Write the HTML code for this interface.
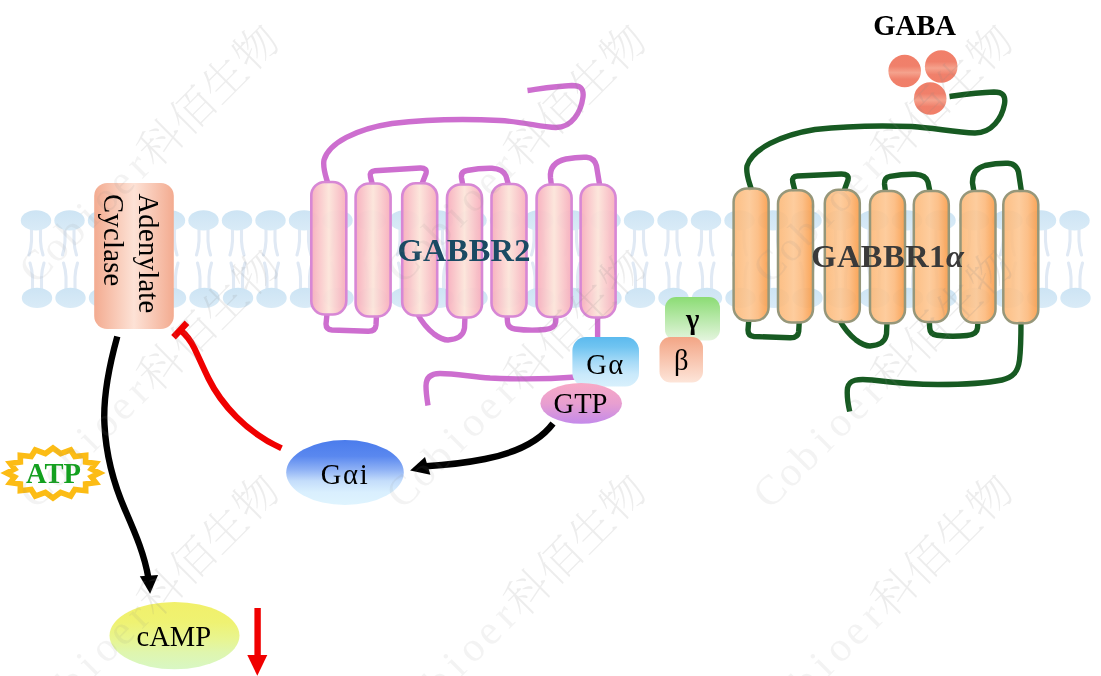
<!DOCTYPE html>
<html lang="en"><head><meta charset="utf-8"><title>GABA-B receptor signalling</title>
<style>
html,body{margin:0;padding:0;background:#fff;}
body{width:1101px;height:676px;overflow:hidden;}
svg{display:block;will-change:transform;}
text{font-family:"Liberation Serif","Noto Serif CJK SC",serif;}
.wm{font-family:"Liberation Serif","Noto Serif CJK SC",serif;font-weight:200;fill:#888;font-size:44px;}
</style></head><body>
<svg width="1101" height="676" viewBox="0 0 1101 676">
<defs>
<linearGradient id="gLip" x1="0" y1="0" x2="0" y2="1"><stop offset="0" stop-color="#cde4f4"/><stop offset="1" stop-color="#d9ebf7"/></linearGradient>
<linearGradient id="gAC" x1="0" y1="0" x2="1" y2="0"><stop offset="0" stop-color="#f3ab90"/><stop offset=".5" stop-color="#fde2d6"/><stop offset="1" stop-color="#f3ab90"/></linearGradient>
<linearGradient id="gPink" x1="0" y1="0" x2="1" y2="0"><stop offset="0" stop-color="#f7adbc"/><stop offset=".5" stop-color="#fce5da"/><stop offset="1" stop-color="#f7adbc"/></linearGradient>
<linearGradient id="gOr" x1="0" y1="0" x2="1" y2="0"><stop offset="0" stop-color="#fcb877"/><stop offset=".45" stop-color="#fdc793"/><stop offset=".7" stop-color="#fcb97c"/><stop offset="1" stop-color="#f99a45"/></linearGradient>
<linearGradient id="gGa" x1="0" y1="0" x2="0" y2="1"><stop offset="0" stop-color="#5cbaee"/><stop offset=".2" stop-color="#70c4f1"/><stop offset=".5" stop-color="#a6daf7"/><stop offset=".75" stop-color="#c9e9fb"/><stop offset="1" stop-color="#d8f0fc"/></linearGradient>
<linearGradient id="gGTP" x1="0" y1="0" x2="0" y2="1"><stop offset="0" stop-color="#f8a9c6"/><stop offset=".5" stop-color="#e89fd0"/><stop offset="1" stop-color="#c48aea"/></linearGradient>
<linearGradient id="gGam" x1="0" y1="0" x2="0" y2="1"><stop offset="0" stop-color="#8bdc74"/><stop offset="1" stop-color="#e4f5de"/></linearGradient>
<linearGradient id="gBet" x1="0" y1="0" x2="0" y2="1"><stop offset="0" stop-color="#f3a585"/><stop offset="1" stop-color="#fde5d9"/></linearGradient>
<linearGradient id="gGai" x1="0" y1="0" x2="0" y2="1"><stop offset="0" stop-color="#4b7cec"/><stop offset=".25" stop-color="#5a88ef"/><stop offset=".45" stop-color="#8db0f5"/><stop offset=".63" stop-color="#c4ddfb"/><stop offset=".8" stop-color="#d9effe"/><stop offset="1" stop-color="#dff4fe"/></linearGradient>
<linearGradient id="gCamp" x1="0" y1="0" x2="0" y2="1"><stop offset="0" stop-color="#f1f06a"/><stop offset=".3" stop-color="#eff272"/><stop offset=".55" stop-color="#e8f590"/><stop offset=".75" stop-color="#dff6ae"/><stop offset="1" stop-color="#d8f7c4"/></linearGradient>
<linearGradient id="gBall" x1="0" y1="0" x2="0" y2="1"><stop offset="0" stop-color="#f17f69"/><stop offset=".35" stop-color="#f0806b"/><stop offset=".55" stop-color="#f5a28d"/><stop offset=".75" stop-color="#f0806b"/><stop offset="1" stop-color="#f17f69"/></linearGradient>
</defs>
<rect width="1101" height="676" fill="#fff"/>

<g id="membrane">
<path d="M31.5 229 V241 Q31.2 248 29.0 255 M40.5 229 V241 Q40.8 248 43.0 255" stroke="#e0e9f4" stroke-width="3.1" fill="none" stroke-linecap="round"/>
<ellipse cx="36.0" cy="220.4" rx="15.2" ry="10.1" fill="url(#gLip)"/>
<path d="M32.5 290 V277 Q32.2 270 30.0 263 M41.5 290 V277 Q41.8 270 44.0 263" stroke="#e0e9f4" stroke-width="3.1" fill="none" stroke-linecap="round"/>
<ellipse cx="37.0" cy="297.9" rx="15.2" ry="10.1" fill="url(#gLip)"/>
<path d="M65.0 229 V241 Q64.7 248 62.5 255 M74.0 229 V241 Q74.3 248 76.5 255" stroke="#e0e9f4" stroke-width="3.1" fill="none" stroke-linecap="round"/>
<ellipse cx="69.5" cy="220.4" rx="15.2" ry="10.1" fill="url(#gLip)"/>
<path d="M66.0 290 V277 Q65.7 270 63.5 263 M75.0 290 V277 Q75.3 270 77.5 263" stroke="#e0e9f4" stroke-width="3.1" fill="none" stroke-linecap="round"/>
<ellipse cx="70.5" cy="297.9" rx="15.2" ry="10.1" fill="url(#gLip)"/>
<path d="M98.5 229 V241 Q98.2 248 96.0 255 M107.5 229 V241 Q107.8 248 110.0 255" stroke="#e0e9f4" stroke-width="3.1" fill="none" stroke-linecap="round"/>
<ellipse cx="103.0" cy="220.4" rx="15.2" ry="10.1" fill="url(#gLip)"/>
<path d="M99.5 290 V277 Q99.2 270 97.0 263 M108.5 290 V277 Q108.8 270 111.0 263" stroke="#e0e9f4" stroke-width="3.1" fill="none" stroke-linecap="round"/>
<ellipse cx="104.0" cy="297.9" rx="15.2" ry="10.1" fill="url(#gLip)"/>
<path d="M132.0 229 V241 Q131.7 248 129.5 255 M141.0 229 V241 Q141.3 248 143.5 255" stroke="#e0e9f4" stroke-width="3.1" fill="none" stroke-linecap="round"/>
<ellipse cx="136.5" cy="220.4" rx="15.2" ry="10.1" fill="url(#gLip)"/>
<path d="M133.0 290 V277 Q132.7 270 130.5 263 M142.0 290 V277 Q142.3 270 144.5 263" stroke="#e0e9f4" stroke-width="3.1" fill="none" stroke-linecap="round"/>
<ellipse cx="137.5" cy="297.9" rx="15.2" ry="10.1" fill="url(#gLip)"/>
<path d="M165.5 229 V241 Q165.2 248 163.0 255 M174.5 229 V241 Q174.8 248 177.0 255" stroke="#e0e9f4" stroke-width="3.1" fill="none" stroke-linecap="round"/>
<ellipse cx="170.0" cy="220.4" rx="15.2" ry="10.1" fill="url(#gLip)"/>
<path d="M166.5 290 V277 Q166.2 270 164.0 263 M175.5 290 V277 Q175.8 270 178.0 263" stroke="#e0e9f4" stroke-width="3.1" fill="none" stroke-linecap="round"/>
<ellipse cx="171.0" cy="297.9" rx="15.2" ry="10.1" fill="url(#gLip)"/>
<path d="M199.0 229 V241 Q198.7 248 196.5 255 M208.0 229 V241 Q208.3 248 210.5 255" stroke="#e0e9f4" stroke-width="3.1" fill="none" stroke-linecap="round"/>
<ellipse cx="203.5" cy="220.4" rx="15.2" ry="10.1" fill="url(#gLip)"/>
<path d="M200.0 290 V277 Q199.7 270 197.5 263 M209.0 290 V277 Q209.3 270 211.5 263" stroke="#e0e9f4" stroke-width="3.1" fill="none" stroke-linecap="round"/>
<ellipse cx="204.5" cy="297.9" rx="15.2" ry="10.1" fill="url(#gLip)"/>
<path d="M232.5 229 V241 Q232.2 248 230.0 255 M241.5 229 V241 Q241.8 248 244.0 255" stroke="#e0e9f4" stroke-width="3.1" fill="none" stroke-linecap="round"/>
<ellipse cx="237.0" cy="220.4" rx="15.2" ry="10.1" fill="url(#gLip)"/>
<path d="M233.5 290 V277 Q233.2 270 231.0 263 M242.5 290 V277 Q242.8 270 245.0 263" stroke="#e0e9f4" stroke-width="3.1" fill="none" stroke-linecap="round"/>
<ellipse cx="238.0" cy="297.9" rx="15.2" ry="10.1" fill="url(#gLip)"/>
<path d="M266.0 229 V241 Q265.7 248 263.5 255 M275.0 229 V241 Q275.3 248 277.5 255" stroke="#e0e9f4" stroke-width="3.1" fill="none" stroke-linecap="round"/>
<ellipse cx="270.5" cy="220.4" rx="15.2" ry="10.1" fill="url(#gLip)"/>
<path d="M267.0 290 V277 Q266.7 270 264.5 263 M276.0 290 V277 Q276.3 270 278.5 263" stroke="#e0e9f4" stroke-width="3.1" fill="none" stroke-linecap="round"/>
<ellipse cx="271.5" cy="297.9" rx="15.2" ry="10.1" fill="url(#gLip)"/>
<path d="M299.5 229 V241 Q299.2 248 297.0 255 M308.5 229 V241 Q308.8 248 311.0 255" stroke="#e0e9f4" stroke-width="3.1" fill="none" stroke-linecap="round"/>
<ellipse cx="304.0" cy="220.4" rx="15.2" ry="10.1" fill="url(#gLip)"/>
<path d="M300.5 290 V277 Q300.2 270 298.0 263 M309.5 290 V277 Q309.8 270 312.0 263" stroke="#e0e9f4" stroke-width="3.1" fill="none" stroke-linecap="round"/>
<ellipse cx="305.0" cy="297.9" rx="15.2" ry="10.1" fill="url(#gLip)"/>
<path d="M333.0 229 V241 Q332.7 248 330.5 255 M342.0 229 V241 Q342.3 248 344.5 255" stroke="#e0e9f4" stroke-width="3.1" fill="none" stroke-linecap="round"/>
<ellipse cx="337.5" cy="220.4" rx="15.2" ry="10.1" fill="url(#gLip)"/>
<path d="M334.0 290 V277 Q333.7 270 331.5 263 M343.0 290 V277 Q343.3 270 345.5 263" stroke="#e0e9f4" stroke-width="3.1" fill="none" stroke-linecap="round"/>
<ellipse cx="338.5" cy="297.9" rx="15.2" ry="10.1" fill="url(#gLip)"/>
<path d="M366.5 229 V241 Q366.2 248 364.0 255 M375.5 229 V241 Q375.8 248 378.0 255" stroke="#e0e9f4" stroke-width="3.1" fill="none" stroke-linecap="round"/>
<ellipse cx="371.0" cy="220.4" rx="15.2" ry="10.1" fill="url(#gLip)"/>
<path d="M367.5 290 V277 Q367.2 270 365.0 263 M376.5 290 V277 Q376.8 270 379.0 263" stroke="#e0e9f4" stroke-width="3.1" fill="none" stroke-linecap="round"/>
<ellipse cx="372.0" cy="297.9" rx="15.2" ry="10.1" fill="url(#gLip)"/>
<path d="M400.0 229 V241 Q399.7 248 397.5 255 M409.0 229 V241 Q409.3 248 411.5 255" stroke="#e0e9f4" stroke-width="3.1" fill="none" stroke-linecap="round"/>
<ellipse cx="404.5" cy="220.4" rx="15.2" ry="10.1" fill="url(#gLip)"/>
<path d="M401.0 290 V277 Q400.7 270 398.5 263 M410.0 290 V277 Q410.3 270 412.5 263" stroke="#e0e9f4" stroke-width="3.1" fill="none" stroke-linecap="round"/>
<ellipse cx="405.5" cy="297.9" rx="15.2" ry="10.1" fill="url(#gLip)"/>
<path d="M433.5 229 V241 Q433.2 248 431.0 255 M442.5 229 V241 Q442.8 248 445.0 255" stroke="#e0e9f4" stroke-width="3.1" fill="none" stroke-linecap="round"/>
<ellipse cx="438.0" cy="220.4" rx="15.2" ry="10.1" fill="url(#gLip)"/>
<path d="M434.5 290 V277 Q434.2 270 432.0 263 M443.5 290 V277 Q443.8 270 446.0 263" stroke="#e0e9f4" stroke-width="3.1" fill="none" stroke-linecap="round"/>
<ellipse cx="439.0" cy="297.9" rx="15.2" ry="10.1" fill="url(#gLip)"/>
<path d="M467.0 229 V241 Q466.7 248 464.5 255 M476.0 229 V241 Q476.3 248 478.5 255" stroke="#e0e9f4" stroke-width="3.1" fill="none" stroke-linecap="round"/>
<ellipse cx="471.5" cy="220.4" rx="15.2" ry="10.1" fill="url(#gLip)"/>
<path d="M468.0 290 V277 Q467.7 270 465.5 263 M477.0 290 V277 Q477.3 270 479.5 263" stroke="#e0e9f4" stroke-width="3.1" fill="none" stroke-linecap="round"/>
<ellipse cx="472.5" cy="297.9" rx="15.2" ry="10.1" fill="url(#gLip)"/>
<path d="M500.5 229 V241 Q500.2 248 498.0 255 M509.5 229 V241 Q509.8 248 512.0 255" stroke="#e0e9f4" stroke-width="3.1" fill="none" stroke-linecap="round"/>
<ellipse cx="505.0" cy="220.4" rx="15.2" ry="10.1" fill="url(#gLip)"/>
<path d="M501.5 290 V277 Q501.2 270 499.0 263 M510.5 290 V277 Q510.8 270 513.0 263" stroke="#e0e9f4" stroke-width="3.1" fill="none" stroke-linecap="round"/>
<ellipse cx="506.0" cy="297.9" rx="15.2" ry="10.1" fill="url(#gLip)"/>
<path d="M534.0 229 V241 Q533.7 248 531.5 255 M543.0 229 V241 Q543.3 248 545.5 255" stroke="#e0e9f4" stroke-width="3.1" fill="none" stroke-linecap="round"/>
<ellipse cx="538.5" cy="220.4" rx="15.2" ry="10.1" fill="url(#gLip)"/>
<path d="M535.0 290 V277 Q534.7 270 532.5 263 M544.0 290 V277 Q544.3 270 546.5 263" stroke="#e0e9f4" stroke-width="3.1" fill="none" stroke-linecap="round"/>
<ellipse cx="539.5" cy="297.9" rx="15.2" ry="10.1" fill="url(#gLip)"/>
<path d="M567.5 229 V241 Q567.2 248 565.0 255 M576.5 229 V241 Q576.8 248 579.0 255" stroke="#e0e9f4" stroke-width="3.1" fill="none" stroke-linecap="round"/>
<ellipse cx="572.0" cy="220.4" rx="15.2" ry="10.1" fill="url(#gLip)"/>
<path d="M568.5 290 V277 Q568.2 270 566.0 263 M577.5 290 V277 Q577.8 270 580.0 263" stroke="#e0e9f4" stroke-width="3.1" fill="none" stroke-linecap="round"/>
<ellipse cx="573.0" cy="297.9" rx="15.2" ry="10.1" fill="url(#gLip)"/>
<path d="M601.0 229 V241 Q600.7 248 598.5 255 M610.0 229 V241 Q610.3 248 612.5 255" stroke="#e0e9f4" stroke-width="3.1" fill="none" stroke-linecap="round"/>
<ellipse cx="605.5" cy="220.4" rx="15.2" ry="10.1" fill="url(#gLip)"/>
<path d="M602.0 290 V277 Q601.7 270 599.5 263 M611.0 290 V277 Q611.3 270 613.5 263" stroke="#e0e9f4" stroke-width="3.1" fill="none" stroke-linecap="round"/>
<ellipse cx="606.5" cy="297.9" rx="15.2" ry="10.1" fill="url(#gLip)"/>
<path d="M634.5 229 V241 Q634.2 248 632.0 255 M643.5 229 V241 Q643.8 248 646.0 255" stroke="#e0e9f4" stroke-width="3.1" fill="none" stroke-linecap="round"/>
<ellipse cx="639.0" cy="220.4" rx="15.2" ry="10.1" fill="url(#gLip)"/>
<path d="M635.5 290 V277 Q635.2 270 633.0 263 M644.5 290 V277 Q644.8 270 647.0 263" stroke="#e0e9f4" stroke-width="3.1" fill="none" stroke-linecap="round"/>
<ellipse cx="640.0" cy="297.9" rx="15.2" ry="10.1" fill="url(#gLip)"/>
<path d="M668.0 229 V241 Q667.7 248 665.5 255 M677.0 229 V241 Q677.3 248 679.5 255" stroke="#e0e9f4" stroke-width="3.1" fill="none" stroke-linecap="round"/>
<ellipse cx="672.5" cy="220.4" rx="15.2" ry="10.1" fill="url(#gLip)"/>
<path d="M669.0 290 V277 Q668.7 270 666.5 263 M678.0 290 V277 Q678.3 270 680.5 263" stroke="#e0e9f4" stroke-width="3.1" fill="none" stroke-linecap="round"/>
<ellipse cx="673.5" cy="297.9" rx="15.2" ry="10.1" fill="url(#gLip)"/>
<path d="M701.5 229 V241 Q701.2 248 699.0 255 M710.5 229 V241 Q710.8 248 713.0 255" stroke="#e0e9f4" stroke-width="3.1" fill="none" stroke-linecap="round"/>
<ellipse cx="706.0" cy="220.4" rx="15.2" ry="10.1" fill="url(#gLip)"/>
<path d="M702.5 290 V277 Q702.2 270 700.0 263 M711.5 290 V277 Q711.8 270 714.0 263" stroke="#e0e9f4" stroke-width="3.1" fill="none" stroke-linecap="round"/>
<ellipse cx="707.0" cy="297.9" rx="15.2" ry="10.1" fill="url(#gLip)"/>
<path d="M735.0 229 V241 Q734.7 248 732.5 255 M744.0 229 V241 Q744.3 248 746.5 255" stroke="#e0e9f4" stroke-width="3.1" fill="none" stroke-linecap="round"/>
<ellipse cx="739.5" cy="220.4" rx="15.2" ry="10.1" fill="url(#gLip)"/>
<path d="M736.0 290 V277 Q735.7 270 733.5 263 M745.0 290 V277 Q745.3 270 747.5 263" stroke="#e0e9f4" stroke-width="3.1" fill="none" stroke-linecap="round"/>
<ellipse cx="740.5" cy="297.9" rx="15.2" ry="10.1" fill="url(#gLip)"/>
<path d="M768.5 229 V241 Q768.2 248 766.0 255 M777.5 229 V241 Q777.8 248 780.0 255" stroke="#e0e9f4" stroke-width="3.1" fill="none" stroke-linecap="round"/>
<ellipse cx="773.0" cy="220.4" rx="15.2" ry="10.1" fill="url(#gLip)"/>
<path d="M769.5 290 V277 Q769.2 270 767.0 263 M778.5 290 V277 Q778.8 270 781.0 263" stroke="#e0e9f4" stroke-width="3.1" fill="none" stroke-linecap="round"/>
<ellipse cx="774.0" cy="297.9" rx="15.2" ry="10.1" fill="url(#gLip)"/>
<path d="M802.0 229 V241 Q801.7 248 799.5 255 M811.0 229 V241 Q811.3 248 813.5 255" stroke="#e0e9f4" stroke-width="3.1" fill="none" stroke-linecap="round"/>
<ellipse cx="806.5" cy="220.4" rx="15.2" ry="10.1" fill="url(#gLip)"/>
<path d="M803.0 290 V277 Q802.7 270 800.5 263 M812.0 290 V277 Q812.3 270 814.5 263" stroke="#e0e9f4" stroke-width="3.1" fill="none" stroke-linecap="round"/>
<ellipse cx="807.5" cy="297.9" rx="15.2" ry="10.1" fill="url(#gLip)"/>
<path d="M835.5 229 V241 Q835.2 248 833.0 255 M844.5 229 V241 Q844.8 248 847.0 255" stroke="#e0e9f4" stroke-width="3.1" fill="none" stroke-linecap="round"/>
<ellipse cx="840.0" cy="220.4" rx="15.2" ry="10.1" fill="url(#gLip)"/>
<path d="M836.5 290 V277 Q836.2 270 834.0 263 M845.5 290 V277 Q845.8 270 848.0 263" stroke="#e0e9f4" stroke-width="3.1" fill="none" stroke-linecap="round"/>
<ellipse cx="841.0" cy="297.9" rx="15.2" ry="10.1" fill="url(#gLip)"/>
<path d="M869.0 229 V241 Q868.7 248 866.5 255 M878.0 229 V241 Q878.3 248 880.5 255" stroke="#e0e9f4" stroke-width="3.1" fill="none" stroke-linecap="round"/>
<ellipse cx="873.5" cy="220.4" rx="15.2" ry="10.1" fill="url(#gLip)"/>
<path d="M870.0 290 V277 Q869.7 270 867.5 263 M879.0 290 V277 Q879.3 270 881.5 263" stroke="#e0e9f4" stroke-width="3.1" fill="none" stroke-linecap="round"/>
<ellipse cx="874.5" cy="297.9" rx="15.2" ry="10.1" fill="url(#gLip)"/>
<path d="M902.5 229 V241 Q902.2 248 900.0 255 M911.5 229 V241 Q911.8 248 914.0 255" stroke="#e0e9f4" stroke-width="3.1" fill="none" stroke-linecap="round"/>
<ellipse cx="907.0" cy="220.4" rx="15.2" ry="10.1" fill="url(#gLip)"/>
<path d="M903.5 290 V277 Q903.2 270 901.0 263 M912.5 290 V277 Q912.8 270 915.0 263" stroke="#e0e9f4" stroke-width="3.1" fill="none" stroke-linecap="round"/>
<ellipse cx="908.0" cy="297.9" rx="15.2" ry="10.1" fill="url(#gLip)"/>
<path d="M936.0 229 V241 Q935.7 248 933.5 255 M945.0 229 V241 Q945.3 248 947.5 255" stroke="#e0e9f4" stroke-width="3.1" fill="none" stroke-linecap="round"/>
<ellipse cx="940.5" cy="220.4" rx="15.2" ry="10.1" fill="url(#gLip)"/>
<path d="M937.0 290 V277 Q936.7 270 934.5 263 M946.0 290 V277 Q946.3 270 948.5 263" stroke="#e0e9f4" stroke-width="3.1" fill="none" stroke-linecap="round"/>
<ellipse cx="941.5" cy="297.9" rx="15.2" ry="10.1" fill="url(#gLip)"/>
<path d="M969.5 229 V241 Q969.2 248 967.0 255 M978.5 229 V241 Q978.8 248 981.0 255" stroke="#e0e9f4" stroke-width="3.1" fill="none" stroke-linecap="round"/>
<ellipse cx="974.0" cy="220.4" rx="15.2" ry="10.1" fill="url(#gLip)"/>
<path d="M970.5 290 V277 Q970.2 270 968.0 263 M979.5 290 V277 Q979.8 270 982.0 263" stroke="#e0e9f4" stroke-width="3.1" fill="none" stroke-linecap="round"/>
<ellipse cx="975.0" cy="297.9" rx="15.2" ry="10.1" fill="url(#gLip)"/>
<path d="M1003.0 229 V241 Q1002.7 248 1000.5 255 M1012.0 229 V241 Q1012.3 248 1014.5 255" stroke="#e0e9f4" stroke-width="3.1" fill="none" stroke-linecap="round"/>
<ellipse cx="1007.5" cy="220.4" rx="15.2" ry="10.1" fill="url(#gLip)"/>
<path d="M1004.0 290 V277 Q1003.7 270 1001.5 263 M1013.0 290 V277 Q1013.3 270 1015.5 263" stroke="#e0e9f4" stroke-width="3.1" fill="none" stroke-linecap="round"/>
<ellipse cx="1008.5" cy="297.9" rx="15.2" ry="10.1" fill="url(#gLip)"/>
<path d="M1036.5 229 V241 Q1036.2 248 1034.0 255 M1045.5 229 V241 Q1045.8 248 1048.0 255" stroke="#e0e9f4" stroke-width="3.1" fill="none" stroke-linecap="round"/>
<ellipse cx="1041.0" cy="220.4" rx="15.2" ry="10.1" fill="url(#gLip)"/>
<path d="M1037.5 290 V277 Q1037.2 270 1035.0 263 M1046.5 290 V277 Q1046.8 270 1049.0 263" stroke="#e0e9f4" stroke-width="3.1" fill="none" stroke-linecap="round"/>
<ellipse cx="1042.0" cy="297.9" rx="15.2" ry="10.1" fill="url(#gLip)"/>
<path d="M1070.0 229 V241 Q1069.7 248 1067.5 255 M1079.0 229 V241 Q1079.3 248 1081.5 255" stroke="#e0e9f4" stroke-width="3.1" fill="none" stroke-linecap="round"/>
<ellipse cx="1074.5" cy="220.4" rx="15.2" ry="10.1" fill="url(#gLip)"/>
<path d="M1071.0 290 V277 Q1070.7 270 1068.5 263 M1080.0 290 V277 Q1080.3 270 1082.5 263" stroke="#e0e9f4" stroke-width="3.1" fill="none" stroke-linecap="round"/>
<ellipse cx="1075.5" cy="297.9" rx="15.2" ry="10.1" fill="url(#gLip)"/>
</g>
<g id="adenylate-cyclase">
<rect x="94.2" y="183" width="79.6" height="146" rx="13" ry="13" fill="url(#gAC)"/>
<text transform="translate(139.2 193.4) rotate(90)" font-size="28.6" letter-spacing=".3" fill="#000">Adenylate</text>
<text transform="translate(104.4 194) rotate(90)" font-size="28.6" letter-spacing=".3" fill="#000">Cyclase</text>
</g>
<g id="gabbr2"><g fill="none" stroke="#cd6ecf" stroke-width="5.4" stroke-linecap="butt" stroke-linejoin="round">
<path d="M328 184 C325.5 175 322.5 168 324 160 C329 143 356 129 392 123.5 C430 119 470 119 500 120.5 C525 122 540 127 556 127.5 C572 127.5 581 112 583 97 C584 88 580 85.5 572 85.5 C557 86 542 88.5 527.5 90.5"/>
<path d="M372.5 185 L370.5 177 Q369 171.3 375 170.8 L420 168 Q427.5 167.6 426 173.5 L421.5 185"/>
<path d="M463 186 L461.5 178 Q460.5 171.5 467 170.5 Q480 168 492 168.3 Q503 169 506 176 L508.5 185"/>
<path d="M551.5 186 L550.5 178 C549.5 168 555 161.5 566 159 Q577 157 586.5 157.3 Q594.5 158 596.5 166 L599.8 186"/>
<path d="M327 314 L326 324 Q326 329.5 332 330 L368 331.3 Q375.5 331.5 376 325 L376.5 315"/>
<path d="M417.5 314 Q424 326 434 334 Q442 340 448 340 Q463 339 464.5 328 L465 316"/>
<path d="M507 315 L507.5 322 Q508 328 515 329 Q530 331 545 329.5 Q555 328.5 555.7 322 L556 315"/>
<path d="M597.6 315 V340"/>
<path d="M576 377 C550 379 520 379.5 490 378 C470 376.5 455 373.5 440 373.5 C430 373.5 426 378 426 386 C426 393 427 399 428 405.5"/>
</g>
<rect x="311.3" y="182.0" width="35" height="132.5" rx="13.5" ry="13.5" fill="url(#gPink)" fill-opacity=".95" stroke="#d787d5" stroke-width="2.6"/>
<rect x="355.6" y="183.5" width="35" height="133.0" rx="13.5" ry="13.5" fill="url(#gPink)" fill-opacity=".95" stroke="#d787d5" stroke-width="2.6"/>
<rect x="402.2" y="183.3" width="35" height="132.2" rx="13.5" ry="13.5" fill="url(#gPink)" fill-opacity=".95" stroke="#d787d5" stroke-width="2.6"/>
<rect x="447.0" y="184.5" width="35" height="133.0" rx="13.5" ry="13.5" fill="url(#gPink)" fill-opacity=".95" stroke="#d787d5" stroke-width="2.6"/>
<rect x="491.5" y="184.0" width="35" height="132.5" rx="13.5" ry="13.5" fill="url(#gPink)" fill-opacity=".95" stroke="#d787d5" stroke-width="2.6"/>
<rect x="536.6" y="184.5" width="35" height="132.5" rx="13.5" ry="13.5" fill="url(#gPink)" fill-opacity=".95" stroke="#d787d5" stroke-width="2.6"/>
<rect x="580.6" y="184.5" width="35" height="133.0" rx="13.5" ry="13.5" fill="url(#gPink)" fill-opacity=".95" stroke="#d787d5" stroke-width="2.6"/>
<text x="397.4" y="260.5" font-size="32.4" letter-spacing=".35" font-weight="bold" fill="#1a4a63">GABBR2</text>
</g>
<g id="gabbr1a"><g fill="none" stroke="#175a22" stroke-width="5.4" stroke-linecap="butt" stroke-linejoin="round">
<path d="M751.5 190 C749 181 745.5 174 747 166 C752 149 781 135 815 129.5 C850 125.5 885 125.5 912 126.5 C935 128 955 132.5 975 133 C992 133 1002 118 1004.5 104 C1006 95 1002 92 994 92 C978 92.5 964 94.5 949.5 96.5"/>
<path d="M795 191 L792.7 182 Q791.5 176.5 797.5 176 L841 174 Q849.5 173.8 848 180 L844 191"/>
<path d="M885.5 192 L884.5 184 Q884 177.5 890 176.3 Q903 174 915 174.3 Q926 175 928 182 L930 192"/>
<path d="M974 192 L972.5 183 Q972 169 985 165.5 Q997 163 1008 163.3 Q1016.5 164 1018.5 172 L1021.5 192"/>
<path d="M748.8 320 L748 330 Q748 336 754 336.5 L790 337.8 Q798 338 798.7 331.5 L799.3 321"/>
<path d="M839.5 320 Q846 332 856 340 Q864 346 870 346 Q885 345 886.5 334 L887 322"/>
<path d="M929.3 321 L929.7 328 Q930 334.5 937 335.3 Q952 337 967 335.5 Q977 334.5 977.5 328 L978 321"/>
<path d="M1021 321 C1021 335 1021 348 1019.5 360 C1018 372 1013 377.5 1002 380 C985 383.5 960 384.5 938 384.5 C915 384.5 893 382.5 872 380 C858 378.5 849 379.5 847.5 388 C846.5 396 848 404 849.7 411.5"/>
</g>
<rect x="733.6" y="188.5" width="35" height="132.3" rx="13.5" ry="13.5" fill="url(#gOr)" fill-opacity=".9" stroke="#96977a" stroke-width="2.5"/>
<rect x="778.0" y="190.2" width="35" height="132.3" rx="13.5" ry="13.5" fill="url(#gOr)" fill-opacity=".9" stroke="#96977a" stroke-width="2.5"/>
<rect x="824.8" y="189.8" width="35" height="132.2" rx="13.5" ry="13.5" fill="url(#gOr)" fill-opacity=".9" stroke="#96977a" stroke-width="2.5"/>
<rect x="870.0" y="191.0" width="35" height="132.3" rx="13.5" ry="13.5" fill="url(#gOr)" fill-opacity=".9" stroke="#96977a" stroke-width="2.5"/>
<rect x="913.8" y="191.0" width="35" height="131.0" rx="13.5" ry="13.5" fill="url(#gOr)" fill-opacity=".9" stroke="#96977a" stroke-width="2.5"/>
<rect x="960.5" y="191.0" width="35" height="131.8" rx="13.5" ry="13.5" fill="url(#gOr)" fill-opacity=".9" stroke="#96977a" stroke-width="2.5"/>
<rect x="1003.3" y="191.0" width="35" height="132.3" rx="13.5" ry="13.5" fill="url(#gOr)" fill-opacity=".9" stroke="#96977a" stroke-width="2.5"/>
<text x="811.2" y="267" font-size="32.4" letter-spacing=".55" font-weight="bold" fill="#3a3a3a">GABBR1<tspan font-style="italic">α</tspan></text>
</g>
<g id="gaba">
<text x="873.2" y="34.7" font-size="28.7" font-weight="bold" fill="#000">GABA</text>
<circle cx="904.7" cy="71" r="16.3" fill="url(#gBall)"/>
<circle cx="941.2" cy="66.5" r="16.3" fill="url(#gBall)"/>
<circle cx="930.2" cy="98.5" r="16.3" fill="url(#gBall)"/>
</g>
<g id="g-proteins">
<rect x="665" y="297" width="55" height="43.5" rx="11" ry="11" fill="url(#gGam)"/>
<text x="692.7" y="329" font-size="28.6" font-weight="bold" text-anchor="middle" fill="#000">γ</text>
<rect x="659.5" y="337" width="43.5" height="45.5" rx="11" ry="11" fill="url(#gBet)"/>
<text x="681.3" y="370" font-size="28.6" text-anchor="middle" fill="#000">β</text>
<rect x="572.4" y="337" width="66.6" height="49.4" rx="13.5" ry="13.5" fill="url(#gGa)"/>
<text x="605.3" y="373.8" font-size="28.6" letter-spacing="1.2" text-anchor="middle" fill="#000">Gα</text>
<ellipse cx="581.2" cy="403.4" rx="40.8" ry="20.4" fill="url(#gGTP)"/>
<text x="580.5" y="412.6" font-size="28.6" text-anchor="middle" fill="#000">GTP</text>
<ellipse cx="345" cy="472.5" rx="58.8" ry="32.5" fill="url(#gGai)"/>
<text x="345" y="483.8" font-size="28.6" text-anchor="middle" letter-spacing="1.7" fill="#000">Gαi</text>
</g>
<g id="arrows" fill="none">
<path d="M553 423.5 C540 441 515 453 485 459 C465 463 447 465 426 466.2" stroke="#000" stroke-width="6.4"/>
<path d="M410.1 470.4 L425 456.9 L430.4 474.7 Z" fill="#000"/>
<path d="M117.3 336.5 C108 370 103 400 104.5 425 C106 455 114 485 126 512 C136 535 144.5 555 148.4 578" stroke="#000" stroke-width="6.4"/>
<path d="M150.1 593.7 L139.8 576.3 L158.1 575 Z" fill="#000"/>
<path d="M180.3 330 C187 335.5 191 341 194.5 348.5 C199 358 203.5 368.5 208.5 378.5 C221 404 246 432 281.5 448.3" stroke="#f00000" stroke-width="6.2"/>
<path d="M173.5 337.3 L187 322.8" stroke="#f00000" stroke-width="6.4"/>
<path d="M257.6 608 V657" stroke="#f00000" stroke-width="6.4"/>
<path d="M247.3 655 H267.3 L257.3 675.8 Z" fill="#f00000"/>
</g>
<g id="atp">
<polygon points="53.0,448.0 60.6,453.6 70.7,449.9 74.8,456.5 85.7,455.3 85.6,462.0 95.8,463.4 91.4,469.1 99.3,473.0 91.4,476.9 95.8,482.6 85.6,484.0 85.7,490.7 74.8,489.5 70.7,496.1 60.6,492.4 53.0,498.0 45.4,492.4 35.3,496.1 31.2,489.5 20.3,490.7 20.4,484.0 10.2,482.6 14.6,476.9 6.7,473.0 14.6,469.1 10.2,463.4 20.4,462.0 20.3,455.3 31.2,456.5 35.3,449.9 45.4,453.6" fill="#fff" stroke="#fcbc15" stroke-width="5.6" stroke-linejoin="miter"/>
<text x="53.5" y="482.6" font-size="28.6" font-weight="bold" text-anchor="middle" fill="#13a01f">ATP</text>
</g>
<g id="camp">
<ellipse cx="174.5" cy="635.6" rx="65" ry="33.6" fill="url(#gCamp)"/>
<text x="173.8" y="646.3" font-size="28.6" text-anchor="middle" fill="#000">cAMP</text>
</g>
<g id="watermark">
<text class="wm" transform="translate(37.8 284.8) rotate(-45)"><tspan x="-1.7 27.6 51.0 79.1 97.8 122.4 148.1" y="-0.8" font-size="42" fill-opacity=".10">Cobioer</tspan><tspan x="165.3 210.3 255.3 300.3" y="2" font-size="44" fill-opacity=".15">科佰生物</tspan></text>
<text class="wm" transform="translate(404.7 284.8) rotate(-45)"><tspan x="-1.7 27.6 51.0 79.1 97.8 122.4 148.1" y="-0.8" font-size="42" fill-opacity=".10">Cobioer</tspan><tspan x="165.3 210.3 255.3 300.3" y="2" font-size="44" fill-opacity=".15">科佰生物</tspan></text>
<text class="wm" transform="translate(771.6 284.8) rotate(-45)"><tspan x="-1.7 27.6 51.0 79.1 97.8 122.4 148.1" y="-0.8" font-size="42" fill-opacity=".10">Cobioer</tspan><tspan x="165.3 210.3 255.3 300.3" y="2" font-size="44" fill-opacity=".15">科佰生物</tspan></text>
<text class="wm" transform="translate(37.8 509.8) rotate(-45)"><tspan x="-1.7 27.6 51.0 79.1 97.8 122.4 148.1" y="-0.8" font-size="42" fill-opacity=".10">Cobioer</tspan><tspan x="165.3 210.3 255.3 300.3" y="2" font-size="44" fill-opacity=".15">科佰生物</tspan></text>
<text class="wm" transform="translate(404.7 509.8) rotate(-45)"><tspan x="-1.7 27.6 51.0 79.1 97.8 122.4 148.1" y="-0.8" font-size="42" fill-opacity=".10">Cobioer</tspan><tspan x="165.3 210.3 255.3 300.3" y="2" font-size="44" fill-opacity=".15">科佰生物</tspan></text>
<text class="wm" transform="translate(771.6 509.8) rotate(-45)"><tspan x="-1.7 27.6 51.0 79.1 97.8 122.4 148.1" y="-0.8" font-size="42" fill-opacity=".10">Cobioer</tspan><tspan x="165.3 210.3 255.3 300.3" y="2" font-size="44" fill-opacity=".15">科佰生物</tspan></text>
<text class="wm" transform="translate(37.8 734.8) rotate(-45)"><tspan x="-1.7 27.6 51.0 79.1 97.8 122.4 148.1" y="-0.8" font-size="42" fill-opacity=".10">Cobioer</tspan><tspan x="165.3 210.3 255.3 300.3" y="2" font-size="44" fill-opacity=".15">科佰生物</tspan></text>
<text class="wm" transform="translate(404.7 734.8) rotate(-45)"><tspan x="-1.7 27.6 51.0 79.1 97.8 122.4 148.1" y="-0.8" font-size="42" fill-opacity=".10">Cobioer</tspan><tspan x="165.3 210.3 255.3 300.3" y="2" font-size="44" fill-opacity=".15">科佰生物</tspan></text>
<text class="wm" transform="translate(771.6 734.8) rotate(-45)"><tspan x="-1.7 27.6 51.0 79.1 97.8 122.4 148.1" y="-0.8" font-size="42" fill-opacity=".10">Cobioer</tspan><tspan x="165.3 210.3 255.3 300.3" y="2" font-size="44" fill-opacity=".15">科佰生物</tspan></text>
</g>
</svg></body></html>
